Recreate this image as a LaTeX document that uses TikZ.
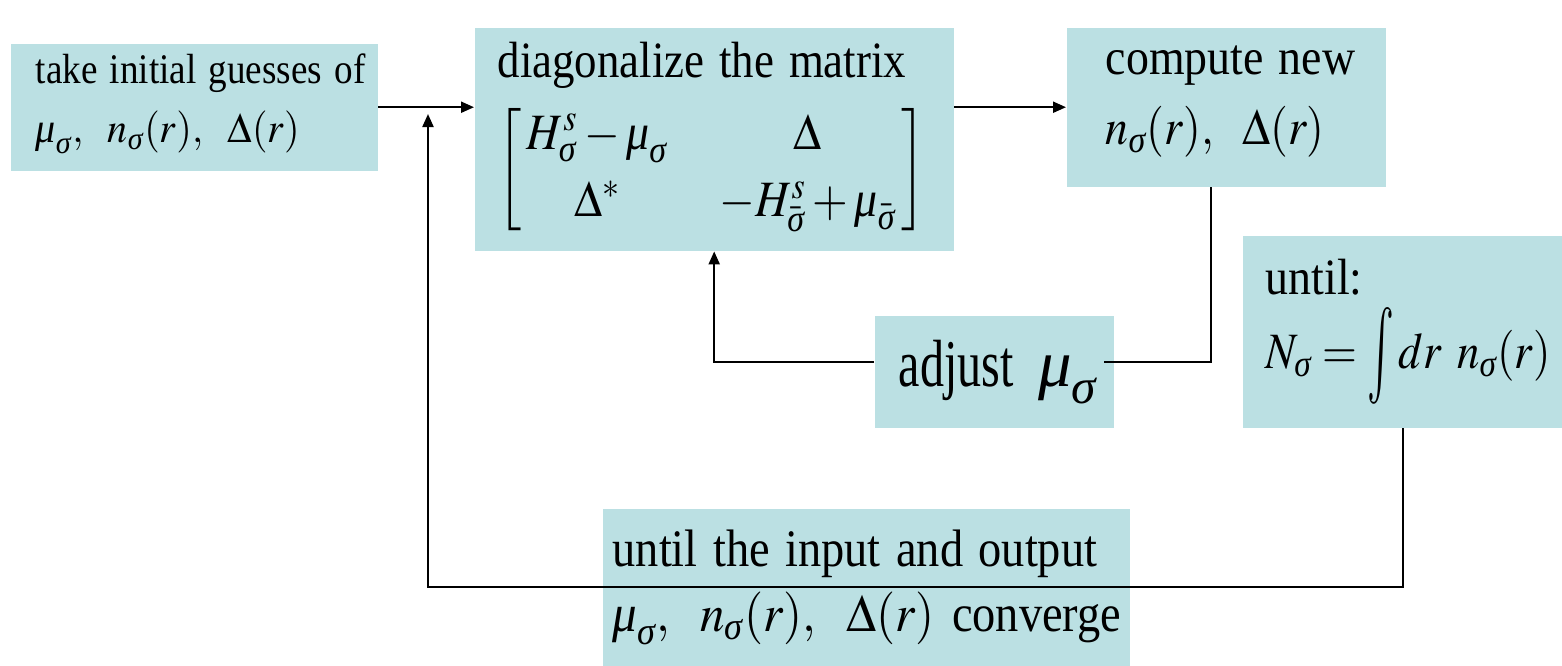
\documentclass[tikz,border=0pt]{standalone}
\usepackage{mathptmx}
\usepackage{amsmath}
\usepackage{fontspec}
\setmainfont{Liberation Serif}
\usetikzlibrary{arrows.meta}
\definecolor{boxcyan}{RGB}{187,224,227}
\newcommand{\nar}[2][0.9]{\scalebox{#1}[1]{#2}}
\newcommand{\lift}[2]{\raisebox{#1}[\height][\depth]{#2}}
\newcommand{\gmu}{\text{\itshape μ}}
\newcommand{\gsig}{\text{\itshape σ}}
\newcommand{\tallint}{\mathop{\vcenter{\hbox{\scalebox{1}[1.9]{$\int$}}}}\nolimits}

\tikzset{
  box/.style={fill=boxcyan, inner sep=0pt, anchor=north west, align=left},
  link/.style={line width=0.6pt},
  arr/.style={link, -{Triangle[length=1.3mm,width=1.1mm]}},
}

\begin{document}
\begin{tikzpicture}[x=0.1mm, y=-0.1mm]
  \useasboundingbox (0,0) rectangle (1562,665);

  % the six boxes
  \node[box, minimum width=36.7mm, minimum height=12.7mm, text width=31.7mm,
        font=\fontsize{12}{14.4}\selectfont] (init) at (10,43)
    {\lift{1pt}{\nar[0.88]{take initial guesses of}}\\[2.6pt]
     \lift{1pt}{\nar[0.95]{$\gmu_\gsig,\enspace n_\gsig(r),\enspace \Delta(r)$}}};
  \node[box, minimum width=47.9mm, minimum height=22.3mm, text width=43.3mm,
        font=\fontsize{14.5}{17.4}\selectfont] (diag) at (474,27)
    {\nar[0.88]{diagonalize the matrix}\\[3pt]
     \nar{$\renewcommand{\arraystretch}{1.1}
      \left[\begin{array}{@{\,}c@{\hspace{16.4pt}}c@{\,}}
        H^s_\gsig-\gmu_\gsig & \Delta\\
        \Delta^{*} & -H^s_{\bar\gsig}+\gmu_{\bar\gsig}
      \end{array}\right]$}};
  \node[box, minimum width=31.9mm, minimum height=15.9mm, text width=24.1mm,
        font=\fontsize{14.5}{17.4}\selectfont] (comp) at (1066,27)
    {\lift{1.5pt}{\nar{compute new}}\\[2.5pt]
     \lift{1.5pt}{\nar{$n_\gsig(r),\enspace \Delta(r)$}}};
  \node[box, minimum width=23.9mm, minimum height=11.2mm, text width=19.1mm,
        font=\fontsize{19}{22.8}\selectfont] (adj) at (874,315)
    {\mbox{\nar[0.72]{adjust}\hspace{7pt}$\gmu_\gsig$}};
  \node[box, minimum width=32mm, minimum height=19.2mm, text width=27.4mm,
        font=\fontsize{14.5}{17.4}\selectfont] (until) at (1242,235)
    {\nar{until:}\\[2.6pt]
     \nar[0.88]{$N_\gsig=\tallint dr\ n_\gsig(r)$}};
  \node[box, minimum width=52.7mm, minimum height=15.7mm, text width=50.7mm,
        font=\fontsize{15}{18}\selectfont] (conv) at (602,508)
    {\nar[0.88]{until the input and output}\\[0.5pt]
     \mbox{\nar[0.93]{$\gmu_\gsig,\enspace n_\gsig(r),\enspace \Delta(r)$} \nar[0.88]{converge}}};

  % connectors
  \coordinate (merge) at (428,114);
  \draw[arr] (init.east) -- (init.east -| diag.west);
  \draw[arr] (diag.east |- comp.west) -- (comp.west);
  \draw[link] ([xshift=-1.55mm]comp.south) |- ([xshift=-1mm,yshift=0.95mm]adj.east);
  \draw[arr] ([yshift=0.95mm]adj.west) -| (diag.south);
  \draw[arr] (until.south) |- (conv.center) -| (merge);
\end{tikzpicture}
\end{document}
